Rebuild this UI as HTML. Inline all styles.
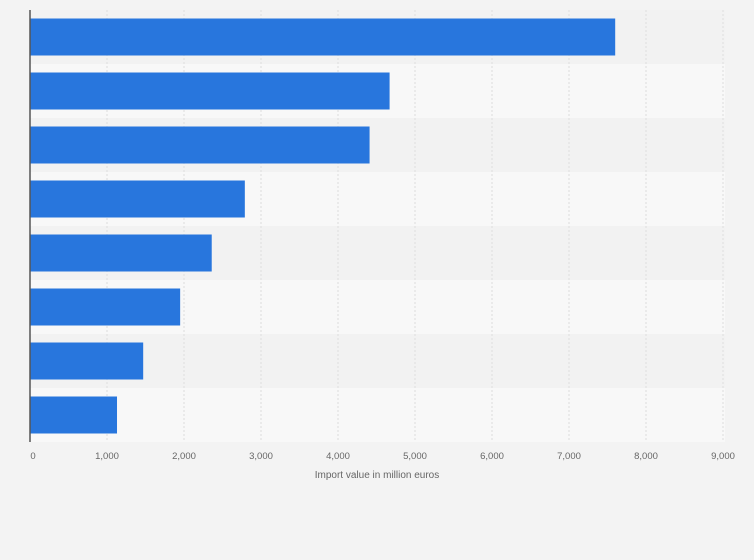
<!DOCTYPE html>
<html><head><meta charset="utf-8"><style>
html,body{margin:0;padding:0;background:#f3f3f3;}
svg{display:block;font-family:"Liberation Sans",sans-serif;}
</style></head><body>
<svg width="754" height="560">
<g id="bg"></g><g id="grid"></g><g id="bars"></g><g id="ticks"></g>
<line x1="30" y1="10" x2="30" y2="442" stroke="#555" stroke-width="1.5"/>
<text x="377" y="478" text-anchor="middle" font-size="10" fill="#666">Import value in million euros</text>
</svg>
<script>
const categories = ["Cat 1","Cat 2","Cat 3","Cat 4","Cat 5","Cat 6","Cat 7","Cat 8"];
const values = [7600,4670,4410,2790,2360,1950,1470,1130];
const tickValues = [0,1000,2000,3000,4000,5000,6000,7000,8000,9000];
const tickLabels = ["0","1,000","2,000","3,000","4,000","5,000","6,000","7,000","8,000","9,000"];
const NS="http://www.w3.org/2000/svg";
const x0=30,pxPer=0.077,plotTop=10,rowH=54,barH=37;
const xs=v=>x0+v*pxPer;
function mk(t,a,p){const e=document.createElementNS(NS,t);for(const k in a)e.setAttribute(k,a[k]);document.getElementById(p).appendChild(e);return e;}
categories.forEach((c,i)=>{
  const r=mk('rect',{x:30,y:plotTop+i*rowH,width:695,height:rowH,fill:i%2?'#f8f8f8':'#f2f2f2'},'bg');
  
  
});
tickValues.forEach((v,i)=>{
  if(v>0){const l=mk('line',{x1:xs(v),x2:xs(v),y1:plotTop,y2:442,stroke:'#ddd','stroke-dasharray':'2,2'},'grid');
  
  }
  const t=mk('text',{x:xs(v)+(v===0?3:0),y:459,'text-anchor':'middle','font-size':'9.5',fill:'#666'},'ticks');
  t.textContent=tickLabels[i];
  
  
});
values.forEach((v,i)=>{
  const b=mk('rect',{x:30,y:plotTop+i*rowH+8.5,width:xs(v)-30,height:barH,fill:'#2876dd'},'bars');
  
  
});
</script>
</body></html>
